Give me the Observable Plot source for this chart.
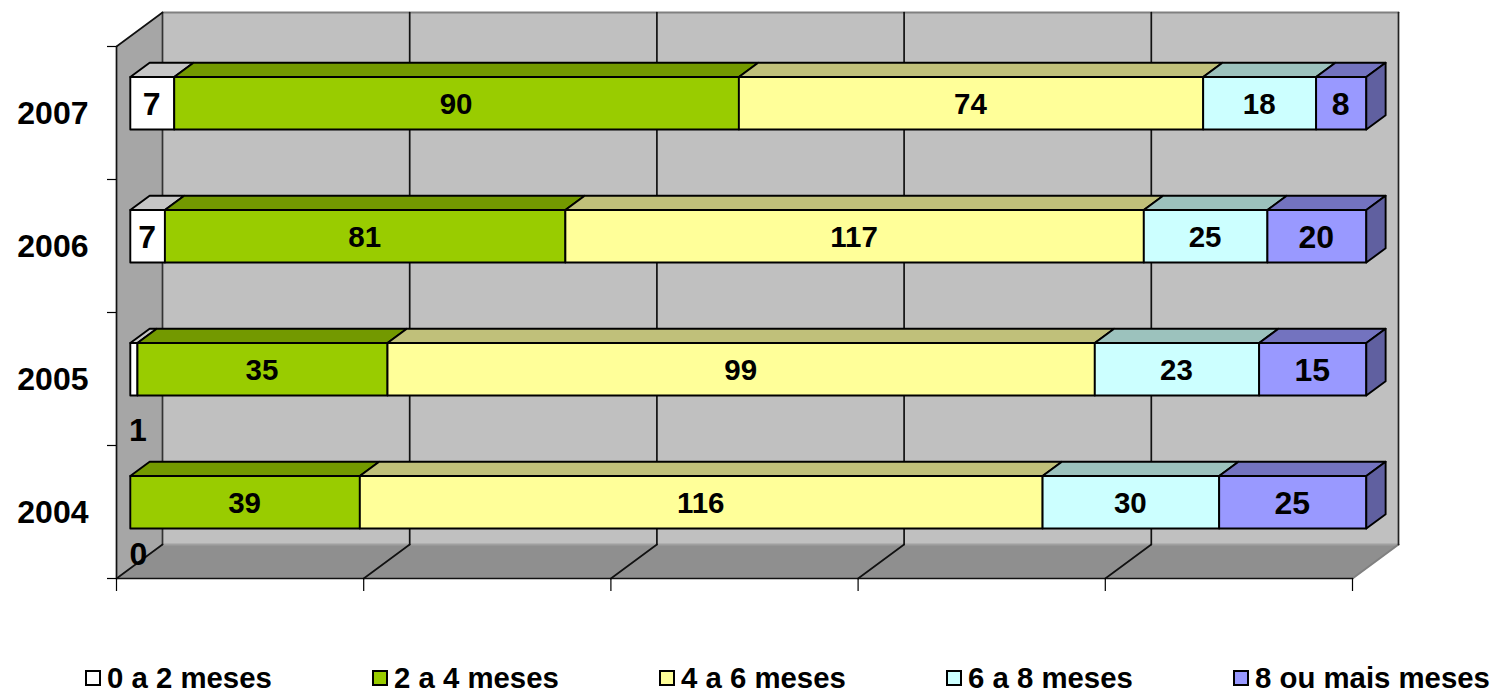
<!DOCTYPE html>
<html>
<head>
<meta charset="utf-8">
<script src="https://cdn.jsdelivr.net/npm/d3@7"></script>
<script src="https://cdn.jsdelivr.net/npm/@observablehq/plot@0.6"></script>
<style>
  html, body { margin: 0; padding: 0; background: #fff; overflow: hidden; }
  svg { display: block; }
  #legend { display: flex; height: 33px; padding-top: 2px; box-sizing: border-box; margin-left: 85px; font: bold 29.35px "Liberation Sans", Arial, sans-serif; color: #000; }
  #legend .item { width: 287px; flex: none; display: flex; align-items: center; white-space: nowrap; }
  #legend .swatch { width: 16px; height: 16px; box-sizing: border-box; border: 2px solid #000; margin-right: 6px; flex: none; }
</style>
</head>
<body>
<div id="chart"></div>
<div id="legend"></div>
<script>
const years = ["2004", "2005", "2006", "2007"];
const seriesNames = ["0 a 2 meses", "2 a 4 meses", "4 a 6 meses", "6 a 8 meses", "8 ou mais meses"];
const counts2004 = [0, 39, 116, 30, 25];
const counts2005 = [1, 35, 99, 23, 15];
const counts2006 = [7, 81, 117, 25, 20];
const counts2007 = [7, 90, 74, 18, 8];
const frontColors = ["#ffffff", "#99cc00", "#ffff99", "#ccffff", "#9999ff"];
const topColors = ["#c6c6c6", "#739900", "#c0c07a", "#9cc2bd", "#7373bf"];
const sideColor = "#6060a0";
const percentTicks = [0, 20, 40, 60, 80, 100];
const counts = [counts2004, counts2005, counts2006, counts2007];

// Oblique projection: depth 0 = front of the floor, depth 1 = back wall.
const depthX = 46 / 12.36;   // percent units per unit of depth
const depthY = 34 / 133;     // row units per unit of depth
const project = (pct, row, depth) => ({x: pct + depth * depthX, y: row + depth * depthY});
const barBottom = 0.299, barTop = 0.694, barFront = 0.3, barBack = 0.72;

const labels = [];
const faces = [];
const addFace = (id, fill, pts) =>
  pts.forEach(p => faces.push({id, fill, ...project(...p)}));

counts.forEach((row, r) => {
  const total = d3.sum(row);
  let cum = 0;
  row.forEach((v, s) => {
    const a = cum / total * 100;
    cum += v;
    const b = cum / total * 100;
    labels.push({v, s, ...project((a + b) / 2, r + (barBottom + barTop) / 2, barFront)});
    if (v === 0) return;
    const id = `${r}-${s}`;
    addFace(id + "t", topColors[s], [[a, r + barTop, barFront], [b, r + barTop, barFront], [b, r + barTop, barBack], [a, r + barTop, barBack]]);
    addFace(id + "f", frontColors[s], [[a, r + barBottom, barFront], [b, r + barBottom, barFront], [b, r + barTop, barFront], [a, r + barTop, barFront]]);
  });
  addFace(r + "s", sideColor, [[100, r + barBottom, barFront], [100, r + barBottom, barBack], [100, r + barTop, barBack], [100, r + barTop, barFront]]);
});

const walls = [];
const addWall = (id, fill, pts) => pts.forEach(p => walls.push({id, fill, ...project(...p)}));
addWall("back", "#c0c0c0", [[0, 0, 1], [100, 0, 1], [100, 4, 1], [0, 4, 1]]);
addWall("left", "#a6a6a6", [[0, 0, 0], [0, 0, 1], [0, 4, 1], [0, 4, 0]]);
addWall("floor", "#8f8f8f", [[0, 0, 0], [100, 0, 0], [100, 0, 1], [0, 0, 1]]);

const edge = (id, stroke, a, b) => [a, b].map(p => ({id, stroke, ...project(...p)}));
const darkEdges = [
  ...percentTicks.flatMap(t => t === 0 || t === 100 ? [] : [
    ...edge("g" + t, "#111", [t, 0, 0], [t, 0, 1]),
    ...edge("v" + t, "#111", [t, 0, 1], [t, 4, 1])
  ]),
  ...edge("lb", "#333", [0, 0, 1], [0, 4, 1]),
  ...edge("rb", "#222", [100, 0, 1], [100, 4, 1]),
  ...edge("lt", "#111", [0, 4, 0], [0, 4, 1]),
  ...edge("lf", "#111", [0, 0, 0], [0, 0, 1]),
  ...edge("lw", "#111", [0, 0, 0], [0, 4, 0]),
  ...edge("bf", "#111", [0, 0, 0], [100, 0, 0])
];
const greyEdges = [
  ...edge("bt", "#808080", [0, 4, 1], [100, 4, 1]),
  ...edge("fb", "#a0a0a0", [0, 0, 1], [100, 0, 1]),
  ...edge("fr", "#808080", [100, 0, 0], [100, 0, 1])
];
const font = "Liberation Sans, Arial, sans-serif";
const labelSize = d => (d.s === 0 || d.s === 4 ? 32 : 29.5);

const chart = Plot.plot({
  width: 1496,
  height: 660,
  marginLeft: 116,
  marginRight: 144,
  marginTop: 46,
  marginBottom: 82,
  x: {domain: [0, 100]},
  y: {domain: [0, 4]},
  color: {type: "identity"},
  style: {background: "transparent", overflow: "visible", fontFamily: font},
  marks: [
    Plot.line(walls, {x: "x", y: "y", z: "id", fill: "fill", stroke: null, curve: "linear-closed"}),
    Plot.line(greyEdges, {x: "x", y: "y", z: "id", stroke: "stroke", strokeWidth: 2}),
    Plot.line(darkEdges, {x: "x", y: "y", z: "id", stroke: "stroke", strokeWidth: 1.7}),
    Plot.axisX({ticks: percentTicks, tickSize: 13, tickFormat: () => "", label: null, strokeWidth: 1.2, stroke: "#000"}),
    Plot.axisY({ticks: [0, 1, 2, 3, 4], tickSize: 9, tickFormat: () => "", label: null, strokeWidth: 1.2, stroke: "#000"}),
    Plot.line(faces, {x: "x", y: "y", z: "id", fill: "fill", stroke: "#000", strokeWidth: 1.9, curve: "linear-closed"}),
    Plot.text(labels.filter(d => d.v > 1), {x: "x", y: "y", text: "v", fontSize: labelSize, fontWeight: "bold", fill: "#000", dx: -0.5, dy: 1}),
    Plot.text(labels.filter(d => d.v === 1), {x: "x", y: "y", text: "v", fontSize: labelSize, fontWeight: "bold", fill: "#000", dx: 4, dy: 61}),
    Plot.text(labels.filter(d => d.v === 0), {x: "x", y: "y", text: "v", fontSize: labelSize, fontWeight: "bold", fill: "#000", dx: 8, dy: 52}),
    Plot.text(years, {x: () => 0, y: (d, i) => i + 0.5, text: d => d, textAnchor: "end", dx: -28, dy: 1, fontSize: 32, fontWeight: "bold", fill: "#000"})
  ]
});
document.getElementById("chart").append(chart);

const legend = document.getElementById("legend");
seriesNames.forEach((name, i) => {
  const item = document.createElement("div");
  item.className = "item";
  const sw = document.createElement("span");
  sw.className = "swatch";
  sw.style.background = frontColors[i];
  const tx = document.createElement("span");
  tx.textContent = name;
  item.append(sw, tx);
  legend.append(item);
});
</script>
</body>
</html>
